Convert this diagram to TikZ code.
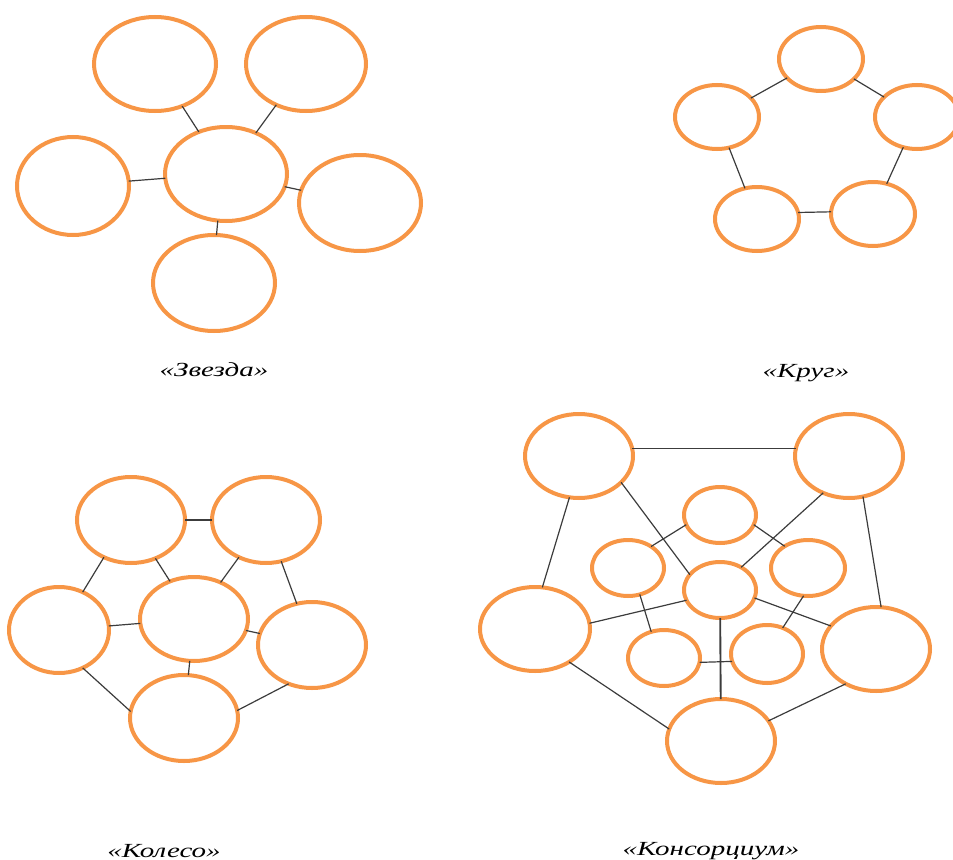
\documentclass[tikz,border=0pt]{standalone}
\usepackage{fontspec}
\setmainfont{Liberation Serif}
\newfontfamily\labfont[FakeStretch=1.45]{Liberation Serif}
\usetikzlibrary{shapes.geometric}
\definecolor{orng}{RGB}{247,150,70}
\definecolor{lnk}{RGB}{60,60,60}
\tikzset{
  ov/.style 2 args={ellipse, draw=orng, line width=3pt, minimum width=#1*0.75pt,
     minimum height=#2*0.75pt, inner sep=0pt, outer sep=0pt},
  lk/.style={draw=lnk, line width=0.9pt},
  lab/.style={anchor=base, inner sep=0pt, font=\labfont\itshape\fontsize{15pt}{18pt}\selectfont}
}
\begin{document}
\begin{tikzpicture}[x=0.75pt,y=-0.75pt]
\useasboundingbox (0,0) rectangle (953,860);
% ---------- Zvezda ----------
\node[ov={122}{94}] (s1) at (155,64) {};
\node[ov={120}{94}] (s2) at (306,64) {};
\node[ov={112}{98}] (s3) at (73,186) {};
\node[ov={122}{94}] (s0) at (226,174) {};
\node[ov={122}{96}] (s4) at (360,203) {};
\node[ov={122}{96}] (s5) at (214,283) {};
\draw[lk] (s1) -- (s0);
\draw[lk] (s2) -- (s0);
\draw[lk] (s3.5) -- (s0.-176);
\draw[lk] (s0) -- (s4);
\draw[lk] (s0.-100) -- (s5.87);
\node[lab] (t1) at (214,376) {«Звезда»};
% ---------- Krug ----------
\node[ov={84}{64}] (c1) at (821,59) {};
\node[ov={84}{64}] (c2) at (717,117) {};
\node[ov={84}{64}] (c3) at (917,117) {};
\node[ov={84}{64}] (c4) at (757,219) {};
\node[ov={84}{64}] (c5) at (873,214) {};
\draw[lk] (c2) -- (c1);
\draw[lk] (c1) -- (c3);
\draw[lk] (c2) -- (c4);
\draw[lk] (c4.9) -- (c5.177);
\draw[lk] (c3) -- (c5);
\node[lab] (t2) at (806,377) {«Круг»};
% ---------- Koleso ----------
\node[ov={108}{86}] (kTL) at (131,520) {};
\node[ov={108}{86}] (kTR) at (266,520) {};
\node[ov={100}{86}] (kL) at (59,630) {};
\node[ov={108}{84}] (kC) at (194,619) {};
\node[ov={108}{86}] (kR) at (312,645) {};
\node[ov={108}{86}] (kB) at (184,718) {};
\draw[lk] (kTL) -- (kTR);
\draw[lk] (kTL.-126) -- (kL.58);
\draw[lk] (kTL) -- (kC);
\draw[lk] (kTR) -- (kC);
\draw[lk] (kTR) -- (kR);
\draw[lk] (kL) -- (kC);
\draw[lk] (kC) -- (kR);
\draw[lk] (kC) -- (kB);
\draw[lk] (kL.-58) -- (kB.173);
\draw[lk] (kR.-121) -- (kB.8);
\node[lab] (t3) at (164,857) {«Колесо»};
% ---------- Konsortsium ----------
\node[ov={108}{84}] (nTL) at (579,456) {};
\node[ov={108}{84}] (nTR) at (849,456) {};
\node[ov={110}{84}] (nL) at (535,629) {};
\node[ov={108}{84}] (nR) at (876,649) {};
\node[ov={108}{84}] (nB) at (721,741) {};
\node[ov={72}{56}] (st) at (720,515) {};
\node[ov={72}{56}] (sl) at (628,568) {};
\node[ov={74}{56}] (sr) at (808,568) {};
\node[ov={72}{56}] (sc) at (720,590) {};
\node[ov={72}{56}] (sbl) at (664,658) {};
\node[ov={72}{58}] (sbr) at (767,654) {};
\draw[lk] (nTL.8) -- (nTR.172);
\draw[lk] (nTL.-103) -- (nL.80);
\draw[lk] (nTR.-71) -- (nR.83);
\draw[lk] (nL.-44) -- (nB.167);
\draw[lk] (nR.-131) -- (nB.23);
\draw[lk] (nTL.-32) -- (sc.153);
\draw[lk] (nTR.-125) -- (sc.47);
\draw[lk] (st.-164) -- (sl.43);
\draw[lk] (st.-16) -- (sr.137);
\draw[lk] (sl.-66) -- (sbl.116);
\draw[lk] (sr.-99) -- (sbr.59);
\draw[lk] (sbl.-7) -- (sbr.-168);
\draw[lk] (nL.6) -- (sc.-163);
\draw[lk] (sc.-13) -- (nR.153);
\draw[lk, line width=1.4pt] (sc) -- (nB);
\node[lab] (t4) at (711,855) {«Консорциум»};
\end{tikzpicture}
\end{document}
